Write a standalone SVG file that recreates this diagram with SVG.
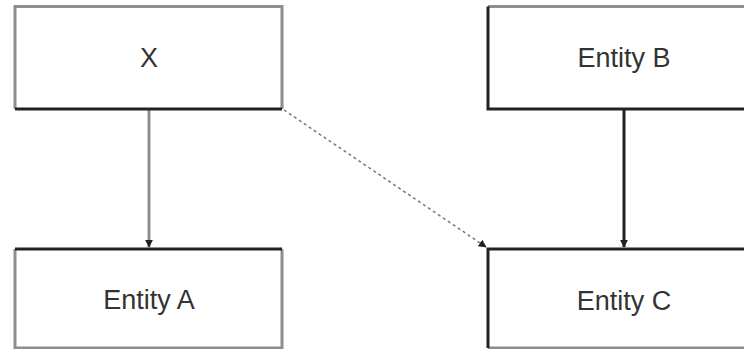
<svg xmlns="http://www.w3.org/2000/svg" width="744" height="349" viewBox="0 0 744 349">
<defs>
<style>
.lbl{font-family:"Liberation Sans",Arial,sans-serif;font-size:27px;fill:#333;text-anchor:middle}
.g{stroke:#8e8e8e;stroke-width:3;fill:none}
.d{stroke:#222;stroke-width:3;fill:none}
</style>
<marker id="ah" viewBox="0 0 10 10" refX="9" refY="5" markerWidth="8" markerHeight="8" markerUnits="userSpaceOnUse" orient="auto">
<path d="M0,0 L10,5 L0,10 z" fill="#222"/>
</marker>
</defs>
<rect width="744" height="349" fill="#fff"/>
<g id="connectors">
<line x1="149" y1="110" x2="149" y2="247" class="g" marker-end="url(#ah)"/>
<line x1="624" y1="110" x2="624" y2="247" class="d" marker-end="url(#ah)"/>
<line x1="284" y1="110" x2="486" y2="247" stroke="#777" stroke-width="1.5" stroke-dasharray="3,3" marker-end="url(#ah)"/>
</g>
<g id="nodeX">
<path d="M15,109 V6.5 H282 V109" class="g"/>
<line x1="15" y1="109" x2="282" y2="109" class="d"/>
<text x="149" y="67" class="lbl">X</text>
</g>
<g id="nodeB">
<line x1="488" y1="6.5" x2="760" y2="6.5" class="g"/>
<path d="M488,6.5 V109 H760" class="d"/>
<text x="624" y="67" class="lbl">Entity B</text>
</g>
<g id="nodeA">
<path d="M15,249 V348 H282 V249" class="g"/>
<line x1="15" y1="249" x2="282" y2="249" class="d"/>
<text x="149" y="309" class="lbl">Entity A</text>
</g>
<g id="nodeC">
<line x1="488" y1="348" x2="760" y2="348" class="g"/>
<path d="M488,348 V249 H760" class="d"/>
<text x="624" y="310" class="lbl">Entity C</text>
</g>
</svg>
